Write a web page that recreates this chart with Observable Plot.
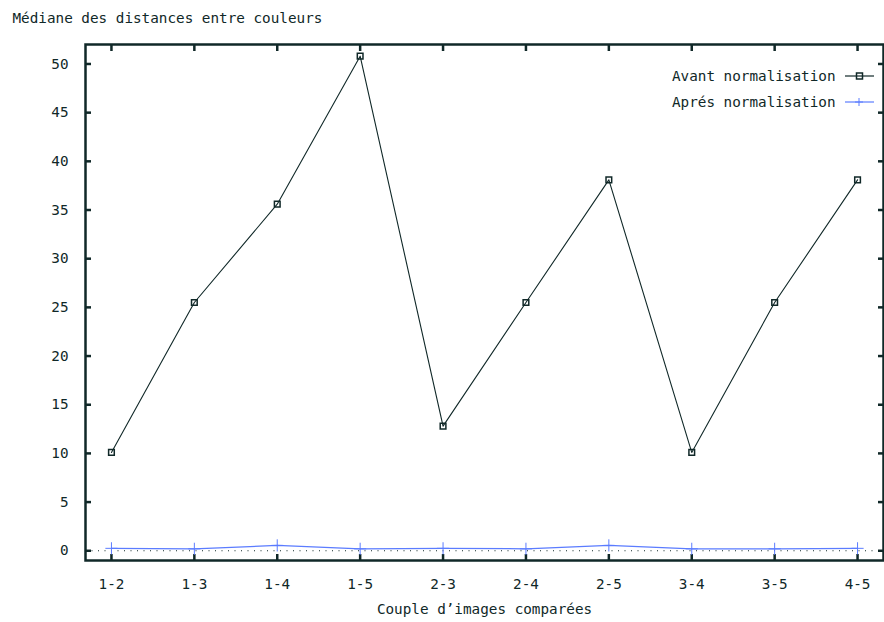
<!DOCTYPE html>
<html>
<head>
<meta charset="utf-8">
<script src="https://cdn.jsdelivr.net/npm/d3@7"></script>
<script src="https://cdn.jsdelivr.net/npm/@observablehq/plot@0.6"></script>
<style>
  html, body { margin: 0; padding: 0; background: #fff; }
  #chart svg { display: block; }
</style>
</head>
<body>
<div id="chart"></div>
<script>
const pairs = ["1-2", "1-3", "1-4", "1-5", "2-3", "2-4", "2-5", "3-4", "3-5", "4-5"];
const avant = [10.1, 25.5, 35.6, 50.8, 12.8, 25.5, 38.1, 10.1, 25.5, 38.1];
const apres = [0.25, 0.2, 0.55, 0.2, 0.25, 0.2, 0.55, 0.2, 0.2, 0.25];
const yTicks = [0, 5, 10, 15, 20, 25, 30, 35, 40, 45, 50];
const title = "Médiane des distances entre couleurs";
const xLabel = "Couple d’images comparées";
const seriesNames = ["Avant normalisation", "Aprés normalisation"];

const ink = "#102828";
const blue = "#5b7cff";
const font = "'DejaVu Sans Mono', 'Liberation Mono', monospace";

const dataAvant = pairs.map((p, i) => ({pair: p, v: avant[i]}));
const dataApres = pairs.map((p, i) => ({pair: p, v: apres[i]}));

const chart = Plot.plot({
  width: 884,
  height: 622,
  marginLeft: 85,
  marginRight: 1,
  marginTop: 44,
  marginBottom: 62,
  style: {fontFamily: font, fontSize: "14.3px", color: ink, background: "#fff"},
  x: {type: "point", domain: pairs, padding: 0.313, round: false},
  y: {domain: [-1, 52]},
  marks: [
    Plot.ruleY([0], {stroke: ink, strokeDasharray: "1,5.5", strokeWidth: 1.2}),
    Plot.axisX({anchor: "bottom", tickSize: -6, tickPadding: 24, strokeWidth: 2.5, label: null, fill: ink}),
    Plot.axisX({anchor: "top", tickSize: -6, tickFormat: () => "", strokeWidth: 2.5, label: null}),
    Plot.axisY({anchor: "left", ticks: yTicks, tickSize: -6, tickPadding: 23, strokeWidth: 2.5, label: null, fill: ink}),
    Plot.axisY({anchor: "right", ticks: yTicks, tickSize: -6, tickFormat: () => "", strokeWidth: 2.5, label: null}),
    Plot.frame({stroke: ink, strokeWidth: 2.5}),
    Plot.line(dataApres, {x: "pair", y: "v", stroke: blue, strokeWidth: 1.2}),
    Plot.dot(dataApres, {x: "pair", y: "v", symbol: "plus", r: 4, stroke: blue, strokeWidth: 1}),
    Plot.line(dataAvant, {x: "pair", y: "v", stroke: ink, strokeWidth: 1.1}),
    Plot.dot(dataAvant, {x: "pair", y: "v", symbol: "square", r: 3.2, stroke: ink, fill: "none", strokeWidth: 1.5}),
    Plot.text([title], {frameAnchor: "top-left", dx: -73, dy: -26, textAnchor: "start", lineAnchor: "middle", fill: ink}),
    Plot.text([xLabel], {frameAnchor: "bottom", dy: 49, lineAnchor: "middle", fill: ink}),
    Plot.text([seriesNames[0]], {frameAnchor: "top-right", dx: -48, dy: 32, textAnchor: "end", lineAnchor: "middle", fill: ink}),
    Plot.text([seriesNames[1]], {frameAnchor: "top-right", dx: -48, dy: 58, textAnchor: "end", lineAnchor: "middle", fill: ink})
  ]
});

// legend samples
const svg = d3.select(chart);
const leg = svg.append("g");
const legendItems = [
  {y: 76, stroke: ink, symbol: "square"},
  {y: 102, stroke: blue, symbol: "plus"}
];
legendItems.forEach(d => {
  leg.append("line").attr("x1", 845).attr("x2", 874).attr("y1", d.y).attr("y2", d.y)
    .attr("stroke", d.stroke).attr("stroke-width", 1.2);
  if (d.symbol === "square") {
    leg.append("rect").attr("x", 856.5).attr("y", d.y - 3).attr("width", 6).attr("height", 6)
      .attr("fill", "none").attr("stroke", d.stroke).attr("stroke-width", 1.5);
  } else {
    leg.append("path").attr("d", `M855,${d.y}h8M859,${d.y - 4}v8`).attr("stroke", d.stroke).attr("stroke-width", 1);
  }
});

document.getElementById("chart").appendChild(chart);
</script>
</body>
</html>
